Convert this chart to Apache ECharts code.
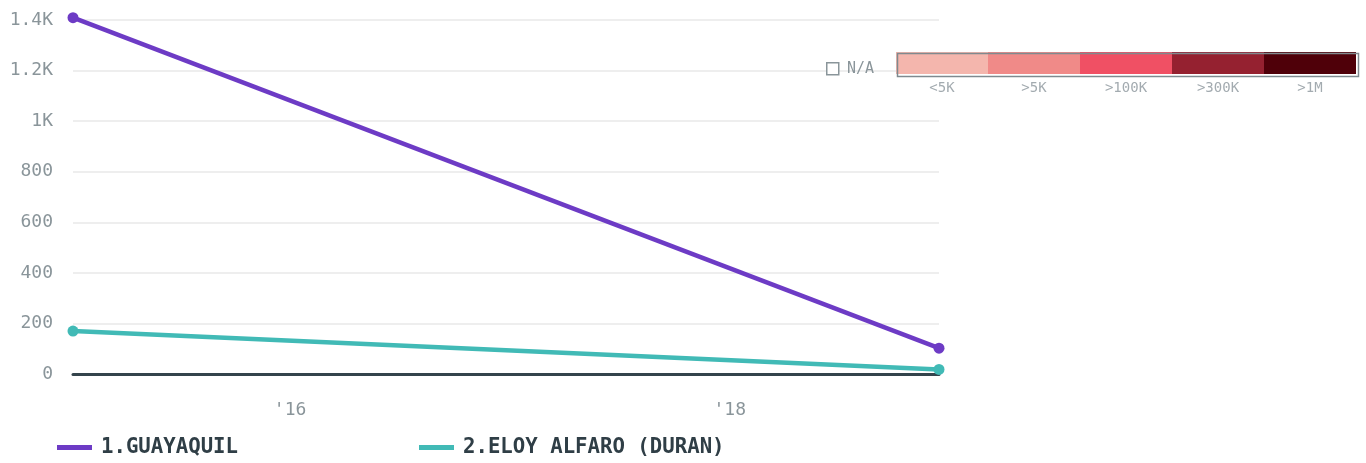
<!DOCTYPE html>
<html>
<head>
<meta charset="utf-8">
<script src="https://cdn.jsdelivr.net/npm/echarts@6/dist/echarts.min.js"></script>
<style>
html,body{margin:0;padding:0;background:#fff;}
#chart{width:1366px;height:463px;}
</style>
</head>
<body>
<div id="chart"></div>
<script>
// ---- data ----
var dates = ['2015-01-05', '2018-12-15'];
var seriesNames = ['1.GUAYAQUIL', '2.ELOY ALFARO (DURAN)'];
var guayaquil = [1409, 102];
var eloyAlfaro = [170, 18];
var seriesColors = ['#6d3bc5', '#41bab6'];
var scaleLabels = ['<5K', '>5K', '>100K', '>300K', '>1M'];
var scaleColors = ['#f4b6ad', '#f08a88', '#f05064', '#952130', '#4f0009'];
var naLabel = 'N/A';

var FONT = '"DejaVu Sans Mono", monospace';

function pairs(vals) {
  return dates.map(function (d, i) { return [d, vals[i]]; });
}

var chart = echarts.init(document.getElementById('chart'));

// color scale legend (decoration)
var graphics = [];
var barLeft = 896, barTop = 52, pieceW = 92, barH = 22;
scaleColors.forEach(function (c, i) {
  graphics.push({
    type: 'rect', left: barLeft + i * pieceW, top: barTop, z: 100,
    shape: { width: pieceW, height: barH }, style: { fill: c }
  });
  graphics.push({
    type: 'text', z: 100,
    x: barLeft + i * pieceW + pieceW / 2, y: 88,
    style: { text: scaleLabels[i], fill: '#a3abb0', font: '14px ' + FONT, align: 'center', verticalAlign: 'middle' }
  });
});
graphics.push({
  type: 'rect', left: barLeft - 1, top: barTop - 1, z: 101,
  shape: { width: pieceW * scaleColors.length + 1, height: barH + 1 },
  style: { fill: 'none', stroke: '#7f8a8f', lineWidth: 1.5 }
});
graphics.push({
  type: 'rect', left: 826, top: 62, z: 100,
  shape: { width: 12, height: 12 },
  style: { fill: '#fff', stroke: '#8a959a', lineWidth: 1.5 }
});
graphics.push({
  type: 'text', z: 100, x: 847, y: 69,
  style: { text: naLabel, fill: '#8a959a', font: '15px ' + FONT, verticalAlign: 'middle' }
});

function lineSeries(name, vals, color) {
  return {
    name: name, type: 'line', data: pairs(vals),
    color: color, clip: false,
    symbol: 'circle', symbolSize: 11, showSymbol: true,
    lineStyle: { width: 4.5, color: color },
    itemStyle: { color: color },
    emphasis: { disabled: true },
    z: 3
  };
}

var legendText = { color: '#2f3e46', fontFamily: FONT, fontSize: 20.7, fontWeight: 'bold', padding: [0, 0, 0, 4] };

var option = {
  animation: false,
  backgroundColor: '#fff',
  grid: { left: 73, right: 427, top: 20, bottom: 89, containLabel: false },
  xAxis: {
    type: 'time',
    min: 'dataMin',
    max: 'dataMax',
    axisLine: { show: true, lineStyle: { color: '#34444c', width: 3 } },
    axisTick: { show: false },
    splitLine: { show: false },
    axisLabel: {
      color: '#8a959a', fontFamily: FONT, fontSize: 18, margin: 27,
      showMinLabel: false, showMaxLabel: false,
      formatter: function (v) {
        var d = new Date(v);
        if (d.getMonth() === 0 && d.getDate() === 1 && d.getFullYear() % 2 === 0) {
          return "'" + String(d.getFullYear()).slice(2);
        }
        return '';
      }
    }
  },
  yAxis: {
    type: 'value',
    min: 0, max: 1400, interval: 200,
    axisLine: { show: false },
    axisTick: { show: false },
    splitLine: { show: true, lineStyle: { color: '#e8e8e8', width: 1.5 } },
    axisLabel: {
      color: '#8a959a', fontFamily: FONT, fontSize: 18, margin: 20,
      formatter: function (v) { return v >= 1000 ? (v / 1000) + 'K' : String(v); }
    }
  },
  legend: [
    {
      left: 57, top: 437, padding: 0, icon: 'rect', itemWidth: 35, itemHeight: 5,
      data: [seriesNames[0]], textStyle: legendText
    },
    {
      left: 419, top: 437, padding: 0, icon: 'rect', itemWidth: 35, itemHeight: 5,
      data: [seriesNames[1]], textStyle: legendText
    }
  ],
  graphic: graphics,
  series: [
    lineSeries(seriesNames[0], guayaquil, seriesColors[0]),
    lineSeries(seriesNames[1], eloyAlfaro, seriesColors[1])
  ]
};
chart.setOption(option);
</script>
</body>
</html>
